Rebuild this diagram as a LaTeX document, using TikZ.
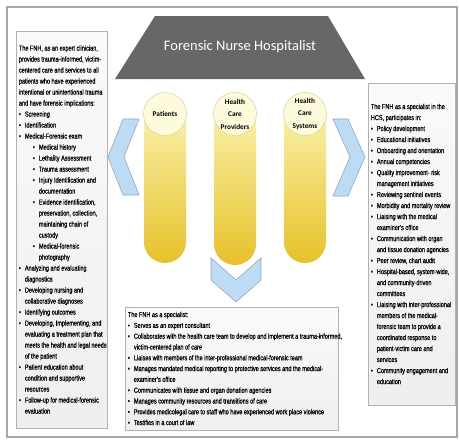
\documentclass[tikz,border=0pt]{standalone}
\usepackage{fontspec}
\setmainfont{Liberation Sans}
\newfontfamily\boxfont[FakeStretch=0.76, FakeBold=0.6]{Liberation Sans}
\newfontfamily\titlefont{Carlito}

\definecolor{bannergray}{HTML}{676767}
\definecolor{chevblue}{HTML}{BDDCF3}
\definecolor{chevedge}{HTML}{8EA9C2}
\definecolor{pilltop}{HTML}{FBF7B8}
\definecolor{pillbot}{HTML}{E8C12A}
\definecolor{capfill}{HTML}{FDFBDC}
\definecolor{capedge}{HTML}{D9D2A6}

\newcommand{\fnhbul}{\makebox[6pt][l]{\textbullet}}
\newcommand{\fnhind}{\hspace*{6pt}}
\newcommand{\fnhsub}{\hspace*{14pt}\makebox[6pt][l]{\textbullet}}
\newcommand{\fnhsubind}{\hspace*{20pt}}

\begin{document}
\begin{tikzpicture}[x=1pt, y=-1pt,
  frame/.style={draw=gray!70, line width=1.2pt},
  banner/.style={fill=bannergray},
  heading/.style={font=\titlefont\fontsize{14.5}{16}\selectfont, text=white},
  chev/.style={fill=chevblue, draw=chevedge, line width=0.6pt, line join=miter},
  pillar/.style={top color=pilltop, bottom color=pillbot, rounded corners=21pt},
  pillcap/.style={circle, minimum size=43pt, inner sep=0pt, fill=capfill,
    draw=capedge, line width=0.5pt, align=center,
    font=\titlefont\bfseries\fontsize{7.3}{12.5}\selectfont},
  panel/.style={rectangle, draw=gray!60, line width=0.6pt,
    top color=gray!4, bottom color=gray!13, inner sep=0pt},
  paneltext/.style={anchor=west, align=left, inner sep=0pt,
    font=\boxfont\fontsize{7.3}{11}\selectfont},
]
\useasboundingbox (0,0) rectangle (459,442);
\fill[white] (0,0) rectangle (459,442);

% Outer frame
\draw[frame] (7,7) rectangle (457,437);

% Banner
\fill[banner] (155,16) -- (328,16) -- (365,79) -- (115,79) -- cycle;
\node[heading] (fnh) at (240,47) {Forensic Nurse Hospitalist};

% Chevrons
\draw[chev] (123,119) -- (139,119) -- (124,157) -- (139,195) -- (123,195) -- (108,157) -- cycle;
\draw[chev] (333,119) -- (348,119) -- (365,157) -- (348,196) -- (333,196) -- (350,157) -- cycle;
\draw[chev] (211,258) -- (236,280) -- (261,258) -- (261,280) -- (236,302) -- (211,280) -- cycle;

% Pillars
\shade[pillar] (144,93) rectangle (186,263);
\shade[pillar] (214,92) rectangle (256,265);
\shade[pillar] (284,92) rectangle (326,263);
\node[pillcap] (patients) at (165,114) {Patients};
\node[pillcap] (providers) at (235,114) {Health\\Care\\Providers};
\node[pillcap] (systems) at (305,114) {Health\\Care\\Systems};

% Left panel: clinician
\node[panel, minimum width=91pt, minimum height=397pt] (leftpanel) at (61.5,229.5) {};
\node[paneltext] (lefttext) at ([xshift=3pt]leftpanel.west) {%
The FNH, as an expert clinician,\\
provides trauma-informed, victim-\\
centered care and services to all\\
patients who have experienced\\
intentional or unintentional trauma\\
and have forensic implications:\\
\fnhbul Screening\\
\fnhbul Identification\\
\fnhbul Medical-Forensic exam\\
\fnhsub Medical history\\
\fnhsub Lethality Assessment\\
\fnhsub Trauma assessment\\
\fnhsub Injury Identification and\\
\fnhsubind documentation\\
\fnhsub Evidence identification,\\
\fnhsubind preservation, collection,\\
\fnhsubind maintaining chain of\\
\fnhsubind custody\\
\fnhsub Medical-forensic\\
\fnhsubind photography\\
\fnhbul Analyzing and evaluating\\
\fnhind diagnostics\\
\fnhbul Developing nursing and\\
\fnhind collaborative diagnoses\\
\fnhbul Identifying outcomes\\
\fnhbul Developing, Implementing, and\\
\fnhind evaluating a treatment plan that\\
\fnhind meets the health and legal needs\\
\fnhind of the patient\\
\fnhbul Patient education about\\
\fnhind condition and supportive\\
\fnhind resources\\
\fnhbul Follow-up for medical-forensic\\
\fnhind evaluation};

% Right panel: health care system
\node[panel, minimum width=87pt, minimum height=322pt] (rightpanel) at (411.5,244) {};
\node[paneltext] (righttext) at ([xshift=3pt]rightpanel.west) {%
The FNH as a specialist in the\\
HCS, participates in:\\
\fnhbul Policy development\\
\fnhbul Educational initiatives\\
\fnhbul Onboarding and orientation\\
\fnhbul Annual competencies\\
\fnhbul Quality improvement- risk\\
\fnhind management initiatives\\
\fnhbul Reviewing sentinel events\\
\fnhbul Morbidity and mortality review\\
\fnhbul Liaising with the medical\\
\fnhind examiner’s office\\
\fnhbul Communication with organ\\
\fnhind and tissue donation agencies\\
\fnhbul Peer review, chart audit\\
\fnhbul Hospital-based, system-wide,\\
\fnhind and community-driven\\
\fnhind committees\\
\fnhbul Liaising with inter-professional\\
\fnhind members of the medical-\\
\fnhind forensic team to provide a\\
\fnhind coordinated response to\\
\fnhind patient-victim care and\\
\fnhind services\\
\fnhbul Community engagement and\\
\fnhind education};

% Bottom panel: specialist
\node[panel, minimum width=213pt, minimum height=123pt] (bottompanel) at (231.5,368.5) {};
\node[paneltext, font=\boxfont\fontsize{7.3}{10.8}\selectfont] (bottomtext) at ([xshift=3pt]bottompanel.west) {%
The FNH as a specialist:\\
\fnhbul Serves as an expert consultant\\
\fnhbul Collaborates with the health care team to develop and implement a trauma-informed,\\
\fnhind victim-centered plan of care\\
\fnhbul Liaises with members of the inter-professional medical-forensic team\\
\fnhbul Manages mandated medical reporting to protective services and the medical-\\
\fnhind examiner’s office\\
\fnhbul Communicates with tissue and organ donation agencies\\
\fnhbul Manages community resources and transitions of care\\
\fnhbul Provides medicolegal care to staff who have experienced work place violence\\
\fnhbul Testifies in a court of law};

\end{tikzpicture}
\end{document}
